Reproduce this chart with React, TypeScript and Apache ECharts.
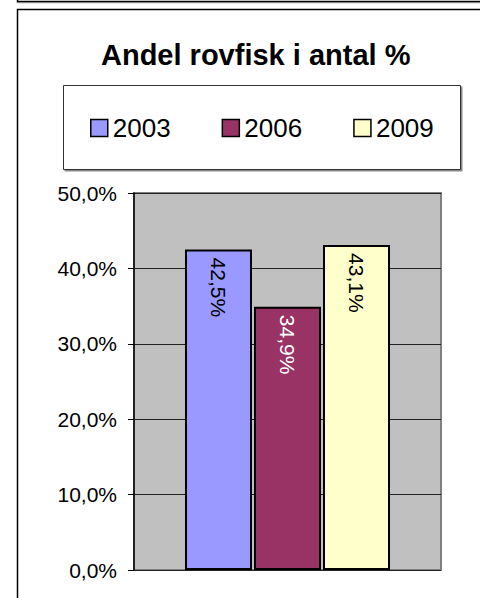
import React, { useEffect, useRef } from "react";
import * as echarts from "echarts";

const title = "Andel rovfisk i antal %";
const categories = [""];
const seriesNames = ["2003", "2006", "2009"];
const seriesValues = [42.5, 34.9, 43.1];
const yMin = 0;
const yMax = 50;
const yInterval = 10;

const barColors = ["#9999FF", "#993366", "#FFFFCC"];
const labelColors = ["#000000", "#FFFFFF", "#000000"];
const FONT = "'Liberation Sans', Arial, sans-serif";

const fmt = (v: number) => v.toFixed(1).replace(".", ",") + "%";

export default function App() {
  const ref = useRef<HTMLDivElement>(null);
  useEffect(() => {
    if (!ref.current) return;
    const chart = echarts.init(ref.current, undefined, { renderer: "svg" });
    chart.setOption({
      animation: false,
      backgroundColor: "#FFFFFF",
      title: {
        text: title,
        left: 101,
        top: 40,
        padding: 0,
        textStyle: { fontFamily: FONT, fontSize: 29, fontWeight: "bold", color: "#000" },
      },
      graphic: [
        {
          type: "rect",
          z: 0,
          shape: { x: 17.5, y: -20, width: 480, height: 21.5 },
          style: { fill: "#fff", stroke: "#000", lineWidth: 1.5, shadowColor: "#999", shadowOffsetY: 1, shadowBlur: 0 },
        },
        {
          type: "rect",
          z: 0,
          shape: { x: 17.5, y: 9.5, width: 480, height: 600 },
          style: { fill: "none", stroke: "#000", lineWidth: 1.5 },
        },
        {
          type: "rect",
          z: 0,
          shape: { x: 63.5, y: 85.5, width: 397, height: 84 },
          style: { fill: "#fff", stroke: "#333", lineWidth: 1, shadowColor: "#888", shadowOffsetX: 1.5, shadowOffsetY: 1.5, shadowBlur: 0 },
        },
      ],
      legend: {
        left: 90,
        top: 115,
        padding: 0,
        icon: "rect",
        itemWidth: 17,
        itemHeight: 17,
        itemGap: 51,
        data: seriesNames,
        itemStyle: { borderColor: "#000", borderWidth: 1.5 },
        textStyle: { fontFamily: FONT, fontSize: 26, color: "#000", padding: [0, 0, 0, 0] },
      },
      grid: {
        left: 134,
        right: 39,
        top: 193,
        bottom: 28,
        show: true,
        backgroundColor: "#C0C0C0",
        borderColor: "#808080",
        borderWidth: 2,
        containLabel: false,
      },
      xAxis: {
        type: "category",
        data: categories,
        axisLine: { show: false },
        axisTick: { show: false },
        axisLabel: { show: false },
        splitLine: { show: false },
      },
      yAxis: {
        type: "value",
        min: yMin,
        max: yMax,
        interval: yInterval,
        axisLine: { show: true, lineStyle: { color: "#000", width: 1.5 } },
        axisTick: { show: true, inside: false, length: 6, lineStyle: { color: "#000", width: 1 } },
        axisLabel: {
          margin: 17,
          formatter: (v: number) => fmt(v),
          fontFamily: FONT,
          fontSize: 21,
          color: "#000",
        },
        splitLine: { show: true, lineStyle: { color: "#222", width: 1 } },
      },
      series: seriesNames.map((name, i) => ({
        name,
        type: "bar",
        data: [seriesValues[i]],
        barWidth: 67,
        barGap: "3%",
        itemStyle: { color: barColors[i], borderColor: "#000", borderWidth: 2 },
        label: {
          show: true,
          position: "insideTop",
          distance: 8,
          rotate: -90,
          align: "left",
          verticalAlign: "middle",
          formatter: (p: any) => fmt(p.value),
          fontFamily: FONT,
          fontSize: 21,
          color: labelColors[i],
        },
      })),
    });
    return () => chart.dispose();
  }, []);
  return (
    <div
      ref={ref}
      style={{ position: "fixed", left: 0, top: 0, width: 480, height: 598 }}
    />
  );
}
